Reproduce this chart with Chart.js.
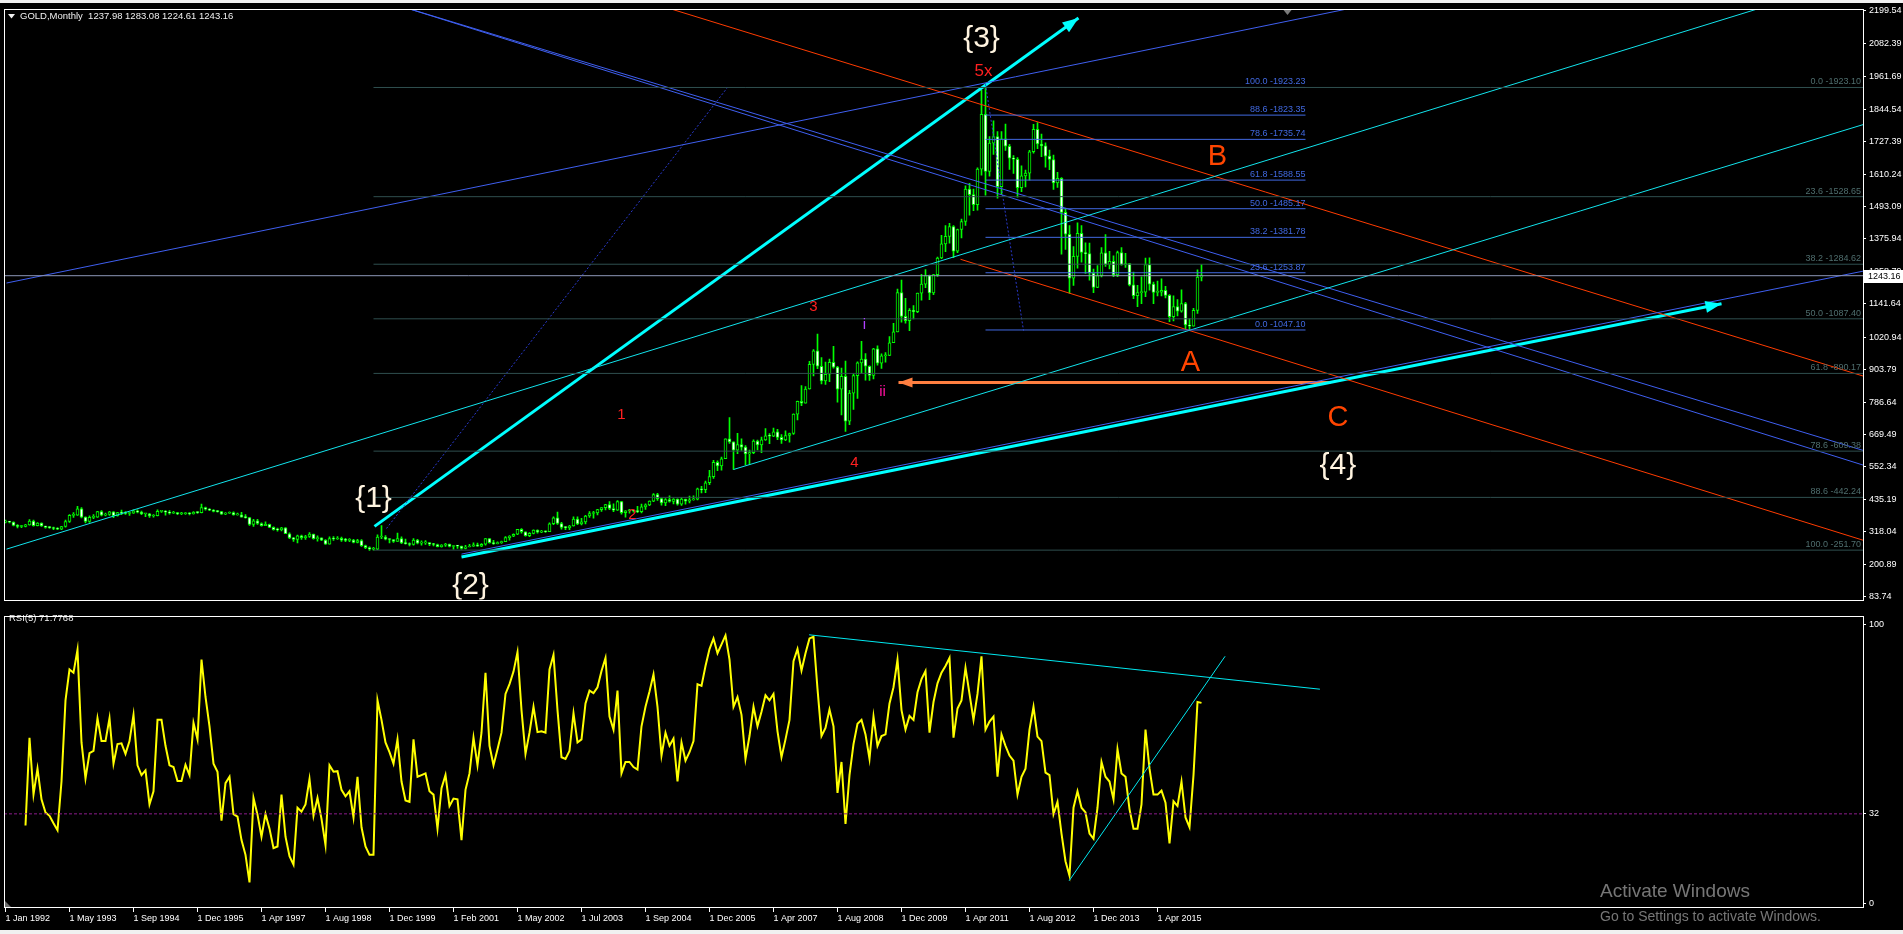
<!DOCTYPE html>
<html>
<head>
<meta charset="utf-8">
<title>GOLD, Monthly</title>
<script src="https://cdn.jsdelivr.net/npm/chart.js@4.4.1/dist/chart.umd.min.js"></script>
<style>
  html, body { margin: 0; padding: 0; background: #000; overflow: hidden; }
  #wrap { position: relative; width: 1903px; height: 934px; background: #000; }
  #priceBox { position: absolute; left: 0; top: 0; width: 1903px; height: 608px; }
  #rsiBox { position: absolute; left: 0; top: 608px; width: 1903px; height: 326px; }
  .strip { position: absolute; left: 0; width: 1903px; background: #f0f0f0; }
</style>
</head>
<body>
<div id="wrap">
  <div id="priceBox"><canvas id="priceChart"></canvas></div>
  <div id="rsiBox"><canvas id="rsiChart"></canvas></div>
  <div class="strip" style="top:0;height:3px"></div>
  <div class="strip" style="top:930px;height:4px"></div>
</div>
<script>
const FONT = "'Liberation Sans', Arial, sans-serif";
const X_MIN = -0.375;
const X_MAX = 464.375;

const headerText = 'GOLD,Monthly  1237.98 1283.08 1224.61 1243.16';
const rsiHeader = 'RSI(5) 71.7768';

// monthly bars, one row per year (some years carry an extra broker bar)
const firstOpen = 353;
const closes = [
  354,353,341,337,337,343,357,340,349,339,334,333,
  330,327,337,355,377,378,401,371,355,370,371,391,
  378,381,390,376,387,386,384,385,394,389,383,383,
  375,376,392,392,389,385,387,383,383,385,383,388,387,
  405,400,396,392,391,382,385,387,379,379,371,369,
  345,358,348,340,345,334,326,325,332,311,296,290,
  303,297,301,310,293,296,288,273,293,292,294,288,
  287,288,280,286,268,261,255,255,299,299,291,290,
  283,293,278,275,272,288,277,278,279,273,272,264,270,274,265,267,
  266,258,263,266,271,266,273,293,279,275,279,
  282,297,302,309,327,318,304,312,324,317,319,318,347,
  368,348,334,333,339,364,346,354,375,384,386,398,405,416,
  402,396,427,387,394,395,393,391,408,415,429,452,438,
  422,434,428,436,418,436,429,433,436,473,470,495,517,
  569,556,582,654,643,613,633,624,599,604,646,632,
  650,665,663,679,659,650,666,673,743,789,783,834,
  923,972,916,863,887,930,913,833,880,718,819,882,
  928,942,916,883,979,927,954,955,1001,1040,1182,1096,
  1081,1118,1113,1180,1213,1244,1181,1247,1307,1358,1385,1421,
  1332,1410,1439,1556,1536,1500,1628,1826,1620,1722,1746,1565,
  1738,1711,1668,1664,1561,1604,1614,1691,1772,1719,1712,1675,
  1663,1578,1595,1472,1393,1234,1313,1396,1327,1323,1253,1201,
  1244,1326,1284,1295,1246,1327,1282,1287,1210,1171,1182,1184,
  1283,1213,1183,1184,1190,1172,1095,1132,1115,1142,1065,1061,
  1118,1237.98,1243.16
];
const highs = [
  360,356,354,344,341,345,362,360,351,350,339,337,
  335,333,338,360,380,387,410,405,372,376,380,392,
  395,386,392,391,388,396,391,389,397,397,393,384,
  385,380,397,394,395,395,392,388,388,387,387,391,390,
  418,407,402,398,395,392,387,390,390,386,388,380,
  370,363,363,350,354,346,336,331,334,333,314,298,
  306,306,305,315,310,303,296,290,300,301,301,299,
  294,293,291,291,290,270,264,262,307,340,304,292,
  290,313,300,292,278,293,291,285,286,279,276,274,272,276,274,268,
  269,264,269,273,278,277,275,293,293,287,282,
  284,301,304,311,327,330,318,315,325,325,323,321,350,
  372,389,352,337,341,372,372,367,377,391,392,399,403,417,
  427,419,431,428,395,399,396,410,418,419,430,456,457,
  440,438,448,438,437,442,432,447,448,476,482,501,540,
  576,574,588,654,731,643,674,654,629,613,650,649,
  660,691,673,693,688,669,683,675,744,790,846,843,
  934,976,1032,947,931,942,988,916,909,935,829,889,
  932,1006,962,918,981,990,961,965,1023,1071,1195,1227,
  1161,1124,1135,1180,1248,1265,1245,1248,1310,1389,1424,1432,
  1424,1412,1448,1568,1577,1556,1633,1913,1923,1746,1803,1764,
  1764,1791,1718,1677,1670,1640,1625,1696,1790,1796,1755,1723,
  1697,1679,1617,1598,1487,1424,1348,1434,1424,1362,1361,1267,
  1280,1345,1392,1331,1315,1332,1345,1324,1287,1256,1208,1239,
  1307,1308,1220,1224,1232,1205,1175,1170,1157,1192,1147,1088,
  1125,1264,1283.08
];
const lows = [
  350,350,339,332,333,336,342,338,339,337,331,330,
  326,326,326,335,352,370,377,368,350,352,365,370,
  375,375,377,369,374,380,381,377,384,386,380,373,
  370,371,375,388,378,382,384,380,380,381,379,382,384,
  386,396,394,390,389,381,380,384,378,378,371,367,
  341,337,345,338,340,333,324,320,321,311,293,283,
  278,290,290,298,291,284,286,272,277,287,290,283,
  282,282,278,278,265,257,251,252,253,293,289,278,
  280,283,275,273,267,270,274,270,272,268,267,263,262,265,263,255,
  258,255,256,263,265,265,264,270,277,272,274,
  276,282,288,300,308,313,302,300,310,313,315,316,318,
  344,345,327,326,326,338,344,343,346,370,367,379,392,397,
  398,391,395,382,371,385,389,387,386,399,412,427,431,
  414,412,425,419,414,413,418,422,432,433,458,459,488,
  511,539,541,582,637,543,600,612,560,561,600,614,
  604,648,636,662,651,637,647,642,670,722,774,784,
  833,881,907,852,850,860,909,786,740,681,705,760,
  800,890,866,865,870,920,908,931,954,1003,1043,1075,
  1072,1045,1087,1110,1155,1200,1157,1175,1241,1305,1330,1361,
  1308,1326,1380,1425,1462,1478,1480,1606,1534,1603,1681,1523,
  1537,1696,1627,1613,1527,1547,1564,1588,1686,1702,1673,1635,
  1626,1555,1562,1321,1338,1180,1208,1270,1292,1251,1227,1182,
  1200,1239,1277,1268,1240,1240,1281,1273,1206,1160,1131,1142,
  1167,1191,1142,1170,1170,1163,1077,1080,1098,1111,1052,1046,
  1061,1107,1224.61
];

const rsiValues = [
  null,null,null,null,null,27.8,59.3,38.9,48.2,37.2,
  32.5,31.3,28.6,26.1,43.6,72.7,83.8,82.6,90.8,57.6,
  44.7,53.8,54.6,66.3,58.1,58.1,66.3,50.0,57.0,57.3,
  53.5,58.1,67.5,49.4,45.9,47.6,35.4,40.1,65.7,65.7,
  56.4,49.4,48.8,43.8,43.8,49.6,45.9,64.6,58.7,87.3,
  73.9,63.4,50.0,47.1,29.6,43.0,45.3,31.9,31.0,22.6,
  17.3,7.4,37.7,31.7,23.8,31.9,26.7,19.7,20.3,38.9,
  23.8,16.8,13.8,34.2,32.8,35.4,44.5,31.3,37.7,30.2,
  20.8,49.4,47.1,47.3,40.6,38.3,40.1,30.7,45.3,27.2,
  20.3,17.3,17.3,72.7,65.7,57.6,54.1,50.0,58.7,43.6,
  36.8,36.3,58.7,45.3,45.9,46.5,40.1,38.9,26.7,41.2,
  45.9,34.8,37.5,37.2,22.6,40.6,46.5,59.3,49.4,61.1,
  82.6,56.4,49.4,55.2,61.1,75.0,78.5,83.0,90.0,69.2,
  53.5,61.1,70.4,61.3,61.6,61.1,83.8,89.0,69.2,52.3,
  51.7,54.6,68.1,57.6,58.7,71.6,76.2,75.3,77.4,83.2,
  87.9,66.9,62.2,76.2,46.5,50.6,50.6,48.8,47.9,63.4,
  70.4,75.9,82.0,70.4,52.9,61.1,56.4,59.0,43.6,57.6,
  51.1,54.1,58.1,78.5,77.9,85.0,91.1,94.9,89.6,92.8,
  96.0,87.3,70.4,73.9,67.5,51.7,59.9,70.4,63.4,68.6,
  74.5,72.7,75.0,61.6,52.3,58.7,65.7,86.7,91.1,83.4,
  89.6,94.9,95.5,76.8,59.9,62.8,69.4,63.4,39.5,50.6,
  28.4,45.9,57.0,64.3,65.7,60.5,51.7,66.9,56.4,59.9,
  60.5,71.6,77.4,87.3,69.2,62.2,67.1,65.7,75.6,80.3,
  83.2,61.1,72.1,78.8,82.6,85.0,87.9,59.3,69.8,72.7,
  84.4,75.0,65.7,75.0,88.5,62.2,65.1,66.9,45.3,60.5,
  56.4,52.9,51.1,38.9,45.3,48.2,62.2,70.4,59.7,58.1,
  46.8,45.9,31.9,36.3,24.9,15.0,9.8,34.2,40.1,34.2,
  32.5,24.9,23.1,34.2,50.6,45.3,43.6,37.2,55.2,46.5,
  45.3,33.7,26.7,26.7,35.4,62.2,48.2,38.9,38.9,40.3,
  36.0,21.4,36.5,34.8,43.6,30.7,27.2,45.9,72.1,71.8
];

const priceTicks = [83.74, 200.89, 318.04, 435.19, 552.34, 669.49, 786.64, 903.79, 1020.94, 1141.64,
  1258.79, 1375.94, 1493.09, 1610.24, 1727.39, 1844.54, 1961.69, 2082.39, 2199.54];
const rsiTicks = [0, 32, 100];
const dateTicks = ['1 Jan 1992', '1 May 1993', '1 Sep 1994', '1 Dec 1995', '1 Apr 1997', '1 Aug 1998',
  '1 Dec 1999', '1 Feb 2001', '1 May 2002', '1 Jul 2003', '1 Sep 2004', '1 Dec 2005', '1 Apr 2007',
  '1 Aug 2008', '1 Dec 2009', '1 Apr 2011', '1 Aug 2012', '1 Dec 2013', '1 Apr 2015'];
const barsPerDateTick = 16;
const bidPrice = 1243.16;

// fibonacci retracements
const grayFibLevels = [0, 23.6, 38.2, 50, 61.8, 78.6, 88.6, 100];
const grayFibPrices = [1923.10, 1528.65, 1284.62, 1087.40, 890.17, 609.38, 442.24, 251.70];
const grayFibFrom = 92;
const blueFibLevels = [100, 88.6, 78.6, 61.8, 50, 38.2, 23.6, 0];
const blueFibPrices = [1923.23, 1823.35, 1735.74, 1588.55, 1485.17, 1381.78, 1253.87, 1047.10];
const blueFibFrom = 245;
const blueFibTo = 325;

// trend lines as [barFrom, priceFrom, barTo, priceTo]
const cyanArrows = [[92.25, 337.5, 268.25, 2174.5], [114, 226.7, 429, 1141.6]];
const orangeArrow = [331.25, 857.5, 223.25, 857.5];
const cyanThin = [[0.25, 255.3, 440.25, 2217], [182, 543, 464.4, 1789]];
const blueThin = [[0.25, 1216.7, 339, 2217.4], [98.75, 2217, 464.4, 559], [98.75, 2217, 464.4, 612], [114, 237.4, 464.4, 1259.6]];
const redThin = [[164, 2217.4, 464.4, 880.7], [238.75, 1302.5, 464.4, 287.5]];
const blueDotted = [[95.25, 330, 180.75, 1928], [245, 1935, 254.5, 1045]];
const rsiTrendLines = [[200.9, 96.2, 328.6, 76.7], [265.9, 8.0, 304.9, 88.5]];
const rsiLevel = 32;

// wave labels as [text, bar, price]
const braceLabels = [['{3}', 244, 2101], ['{1}', 92, 437], ['{2}', 116.25, 122], ['{4}', 333.1, 556]];
const letterLabels = [['B', 303, 1672], ['A', 296.25, 929], ['C', 333.1, 729]];
const redLabels = [['5x', 244.5, 1983], ['3', 202, 1129], ['4', 212.25, 566], ['1', 154, 742], ['2', 156.75, 380]];
const minorLabels = [['i', 214.75, 1066], ['ii', 219.25, 825]];
const shiftMarkBar = 320.5;

function segment(p, color, width, dash) {
    return {
        type: 'line',
        data: [{ x: p[0], y: p[1] }, { x: p[2], y: p[3] }],
        borderColor: color,
        borderWidth: width,
        borderDash: dash || [],
        pointRadius: 0,
        tension: 0,
        order: 0
    };
}

function arrowHead(ctx, x0, y0, x1, y1, color, len, half) {
    const a = Math.atan2(y1 - y0, x1 - x0);
    ctx.fillStyle = color;
    ctx.beginPath();
    ctx.moveTo(x1, y1);
    ctx.lineTo(x1 - len * Math.cos(a) + half * Math.sin(a), y1 - len * Math.sin(a) - half * Math.cos(a));
    ctx.lineTo(x1 - len * Math.cos(a) - half * Math.sin(a), y1 - len * Math.sin(a) + half * Math.cos(a));
    ctx.closePath();
    ctx.fill();
}

const framePlugin = {
    id: 'frame',
    afterDraw(chart) {
        const { ctx, chartArea: a } = chart;
        ctx.save();
        ctx.strokeStyle = '#fff';
        ctx.lineWidth = 1;
        ctx.strokeRect(Math.round(a.left) + 0.5, Math.round(a.top) + 0.5, Math.round(a.right - a.left), Math.round(a.bottom - a.top));
        ctx.restore();
    }
};

const mainOverlay = {
    id: 'mainOverlay',
    afterDatasetsDraw(chart) {
        const { ctx, chartArea: area, scales: { x, y } } = chart;
        ctx.save();
        ctx.beginPath();
        ctx.rect(area.left, area.top, area.right - area.left, area.bottom - area.top);
        ctx.clip();

        ctx.font = `9px ${FONT}`;
        ctx.textAlign = 'right';
        ctx.textBaseline = 'bottom';
        ctx.fillStyle = '#4f6e6e';
        grayFibPrices.forEach((p, k) => {
            ctx.fillText(`${grayFibLevels[k].toFixed(1)} -${p.toFixed(2)}`, area.right - 2, y.getPixelForValue(p) - 1);
        });
        ctx.fillStyle = '#4169e1';
        blueFibPrices.forEach((p, k) => {
            ctx.fillText(`${blueFibLevels[k].toFixed(1)} -${p.toFixed(2)}`, x.getPixelForValue(blueFibTo), y.getPixelForValue(p) - 1);
        });

        cyanArrows.forEach(p => {
            arrowHead(ctx, x.getPixelForValue(p[0]), y.getPixelForValue(p[1]), x.getPixelForValue(p[2]), y.getPixelForValue(p[3]), '#00ffff', 16, 6);
        });
        arrowHead(ctx, x.getPixelForValue(orangeArrow[0]), y.getPixelForValue(orangeArrow[1]),
            x.getPixelForValue(orangeArrow[2]), y.getPixelForValue(orangeArrow[3]), '#ff7f40', 14, 5);

        ctx.textAlign = 'center';
        ctx.textBaseline = 'middle';
        const drawLabels = (list, font, color) => {
            ctx.font = font;
            ctx.fillStyle = color;
            list.forEach(l => ctx.fillText(l[0], x.getPixelForValue(l[1]), y.getPixelForValue(l[2])));
        };
        drawLabels(braceLabels, `30px ${FONT}`, '#fff4e0');
        drawLabels(letterLabels, `29px ${FONT}`, '#ff4500');
        drawLabels(redLabels.slice(0, 1), `17px ${FONT}`, '#ff2020');
        drawLabels(redLabels.slice(1), `15px ${FONT}`, '#ff2020');
        drawLabels(minorLabels.slice(0, 1), `15px ${FONT}`, '#b040ff');
        drawLabels(minorLabels.slice(1), `15px ${FONT}`, '#ff10a0');
        ctx.restore();
    },
    afterDraw(chart) {
        const { ctx, chartArea: area, scales: { x, y } } = chart;
        ctx.save();
        ctx.fillStyle = '#f0f0f0';
        ctx.beginPath();
        ctx.moveTo(8, 14); ctx.lineTo(15, 14); ctx.lineTo(11.5, 18.5); ctx.closePath();
        ctx.fill();
        ctx.font = `9.5px ${FONT}`;
        ctx.textAlign = 'left';
        ctx.textBaseline = 'middle';
        ctx.fillText(headerText, 20, 16);

        const sx = x.getPixelForValue(shiftMarkBar);
        ctx.fillStyle = '#7a7a7a';
        ctx.beginPath();
        ctx.moveTo(sx - 4, area.top + 1); ctx.lineTo(sx + 4, area.top + 1); ctx.lineTo(sx, area.top + 6); ctx.closePath();
        ctx.fill();

        const by = Math.round(y.getPixelForValue(bidPrice));
        ctx.fillStyle = '#fff';
        ctx.fillRect(area.right + 1, by - 6, 40, 13);
        ctx.fillStyle = '#000';
        ctx.font = `9px ${FONT}`;
        ctx.fillText(bidPrice.toFixed(2), area.right + 5, by + 0.5);
        ctx.restore();
    }
};

const rsiOverlay = {
    id: 'rsiOverlay',
    afterDraw(chart) {
        const { ctx, chartArea: area } = chart;
        ctx.save();
        ctx.fillStyle = '#f0f0f0';
        ctx.font = `9.5px ${FONT}`;
        ctx.textAlign = 'left';
        ctx.textBaseline = 'middle';
        ctx.fillText(rsiHeader, 9, 10);

        ctx.fillStyle = '#6e6e6e';
        ctx.beginPath();
        ctx.moveTo(area.left + 1, area.bottom); ctx.lineTo(area.left + 1, area.bottom - 6); ctx.lineTo(area.left + 7, area.bottom); ctx.closePath();
        ctx.fill();

        ctx.fillStyle = 'rgba(190,190,190,0.62)';
        ctx.font = `19px ${FONT}`;
        ctx.fillText('Activate Windows', 1600, 284);
        ctx.font = `14px ${FONT}`;
        ctx.fillText('Go to Settings to activate Windows.', 1600, 309);
        ctx.restore();
    }
};

function renderPrice() {
    const bodies = [];
    const wicks = [];
    closes.forEach((c, i) => {
        const o = i === 0 ? firstOpen : closes[i - 1];
        bodies.push({ x: i, y: [o, c], up: c >= o });
        wicks.push({ x: i, y: [Math.min(lows[i], o, c), Math.max(highs[i], o, c)] });
    });

    const datasets = [
        {
            type: 'bar', data: bodies, order: 2, grouped: false, barThickness: 3, minBarLength: 1,
            borderWidth: 1, borderSkipped: false, borderColor: '#00ff00',
            backgroundColor: c => (c.raw && c.raw.up ? '#000000' : '#ffffff')
        },
        { type: 'bar', data: wicks, order: 3, grouped: false, barThickness: 1, backgroundColor: '#00ff00', borderWidth: 0 },
        segment([X_MIN, bidPrice, X_MAX, bidPrice], '#8e98b8', 1)
    ];
    grayFibPrices.forEach(p => datasets.push(segment([grayFibFrom, p, X_MAX, p], '#2f4f4f', 1)));
    blueFibPrices.forEach(p => datasets.push(segment([blueFibFrom, p, blueFibTo, p], '#4169e1', 1)));
    cyanThin.forEach(p => datasets.push(segment(p, '#12e4ec', 1)));
    blueThin.forEach(p => datasets.push(segment(p, '#3f5ff0', 1)));
    redThin.forEach(p => datasets.push(segment(p, '#ff3c00', 1)));
    blueDotted.forEach(p => datasets.push(segment(p, '#2a3ad0', 1, [2, 2])));
    cyanArrows.forEach(p => datasets.push(segment(p, '#00ffff', 3)));
    datasets.push(segment(orangeArrow, '#ff7f40', 3));

    new Chart(document.getElementById('priceChart').getContext('2d'), {
        type: 'bar',
        data: { datasets },
        options: {
            responsive: true,
            maintainAspectRatio: false,
            animation: false,
            layout: { padding: { left: 4, top: 9, right: 0, bottom: 2 } },
            plugins: { legend: { display: false }, tooltip: { enabled: false } },
            scales: {
                x: { type: 'linear', min: X_MIN, max: X_MAX, offset: false, display: false },
                y: {
                    type: 'linear', position: 'right', min: 73, max: 2206.7,
                    afterBuildTicks: s => { s.ticks = priceTicks.map(v => ({ value: v })); },
                    afterFit: s => { s.width = 40; },
                    border: { display: false },
                    grid: { drawOnChartArea: false, drawTicks: true, tickLength: 3, color: '#ffffff' },
                    ticks: { color: '#ffffff', padding: 3, autoSkip: false, font: { family: FONT, size: 9 }, callback: v => v.toFixed(2) }
                }
            }
        },
        plugins: [mainOverlay, framePlugin]
    });
}

function renderRsi() {
    const datasets = [
        {
            type: 'line', data: rsiValues.map((v, i) => ({ x: i, y: v })), borderColor: '#ffff00',
            borderWidth: 2, pointRadius: 0, tension: 0, order: 1
        },
        segment([X_MIN, rsiLevel, X_MAX, rsiLevel], '#8b1a8b', 1, [3, 2])
    ];
    rsiTrendLines.forEach(p => datasets.push(segment(p, '#00e8f0', 1)));

    new Chart(document.getElementById('rsiChart').getContext('2d'), {
        type: 'line',
        data: { datasets },
        options: {
            responsive: true,
            maintainAspectRatio: false,
            animation: false,
            layout: { padding: { left: 4, top: 1, right: 0, bottom: 0 } },
            plugins: { legend: { display: false }, tooltip: { enabled: false } },
            scales: {
                x: {
                    type: 'linear', min: X_MIN, max: X_MAX, position: 'bottom', offset: false,
                    afterBuildTicks: s => { s.ticks = dateTicks.map((_, k) => ({ value: k * barsPerDateTick })); },
                    afterFit: s => { s.height = 27; },
                    border: { display: false },
                    grid: { drawOnChartArea: false, drawTicks: true, tickLength: 5, color: '#ffffff' },
                    ticks: {
                        color: '#ffffff', align: 'start', padding: 1, maxRotation: 0, autoSkip: false,
                        font: { family: FONT, size: 9 }, callback: (v, k) => dateTicks[k]
                    }
                },
                y: {
                    type: 'linear', position: 'right', min: -1.4, max: 102.8,
                    afterBuildTicks: s => { s.ticks = rsiTicks.map(v => ({ value: v })); },
                    afterFit: s => { s.width = 40; },
                    border: { display: false },
                    grid: { drawOnChartArea: false, drawTicks: true, tickLength: 3, color: '#ffffff' },
                    ticks: { color: '#ffffff', padding: 3, autoSkip: false, font: { family: FONT, size: 9 } }
                }
            }
        },
        plugins: [rsiOverlay, framePlugin]
    });
}

renderPrice();
renderRsi();
</script>
</body>
</html>
